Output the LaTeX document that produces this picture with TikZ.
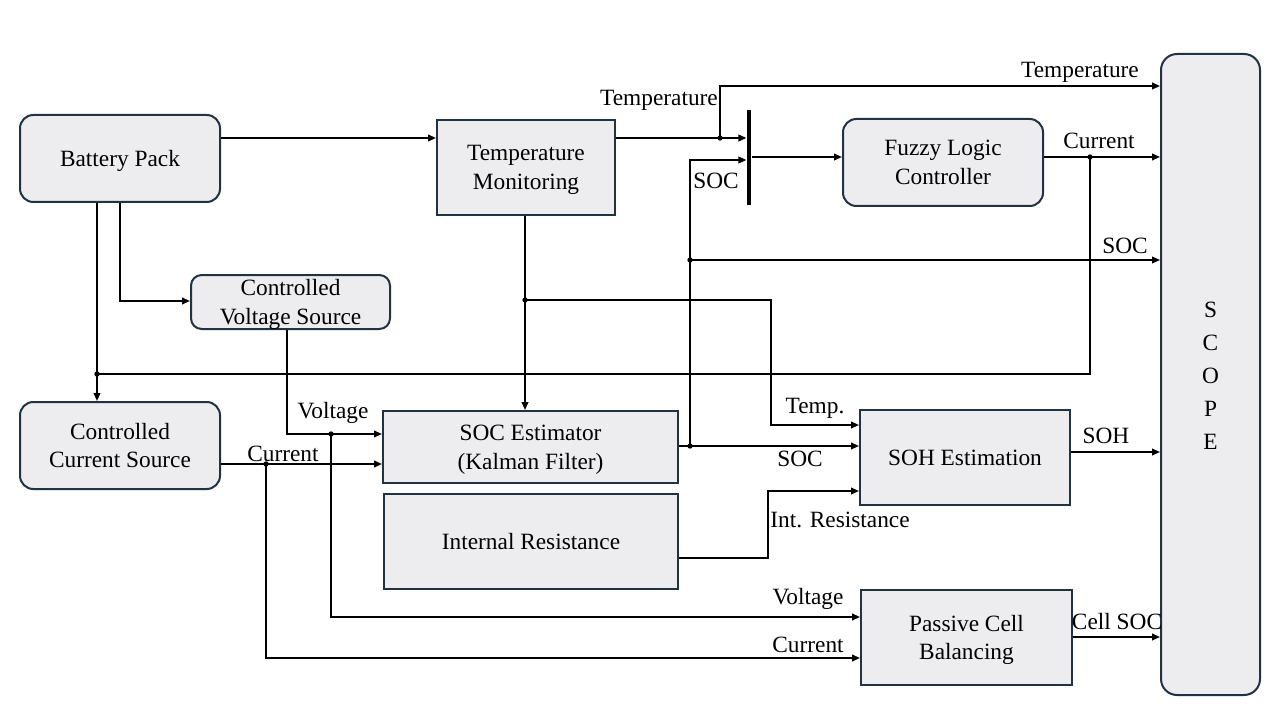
\documentclass[tikz,border=0pt]{standalone}
\usepackage{fontspec}
\setmainfont{Liberation Serif}
\usetikzlibrary{arrows.meta,calc}
\definecolor{boxfill}{HTML}{EDEDEF}
\definecolor{boxline}{HTML}{213244}
\begin{document}
\begin{tikzpicture}[x=0.75pt,y=-0.75pt,
  every node/.style={font=\fontsize{17.5}{21.5}\selectfont},
  sqbox/.style={draw=boxline,fill=boxfill,line width=1.5pt,inner sep=0pt,align=center,text depth=0pt},
  rdbox/.style={sqbox,rounded corners=10pt},
  arr/.style={line width=1.3pt,-{Triangle[length=6pt,width=5pt]}},
  wire/.style={line width=1.3pt},
  jdot/.style={circle,fill=black,inner sep=0pt,minimum size=4pt},
  lbl/.style={inner sep=1pt}]
\fill[white] (0,0) rectangle (1280,720);
\useasboundingbox (0,0) rectangle (1280,720);

% blocks
\node[rdbox,minimum width=150pt,minimum height=65.25pt] (bp) at (120,158.5) {Battery Pack};
\node[sqbox,minimum width=133.5pt,minimum height=71.25pt] (tm) at (526,167.5) {Temperature\\Monitoring};
\node[rdbox,minimum width=149.25pt,minimum height=40.5pt,rounded corners=8pt] (cvs) at (290.5,302) {Controlled\\Voltage Source};
\node[rdbox,minimum width=150pt,minimum height=65.25pt] (ccs) at (120,445.5) {Controlled\\Current Source};
\node[sqbox,minimum width=221.25pt,minimum height=54pt] (soc) at (530.5,447) {SOC Estimator\\(Kalman Filter)};
\node[sqbox,minimum width=220.5pt,minimum height=71.25pt] (ir) at (531,541.5) {Internal Resistance};
\node[rdbox,minimum width=150pt,minimum height=65.25pt] (fz) at (943,162.5) {Fuzzy Logic\\Controller};
\node[sqbox,minimum width=157.5pt,minimum height=71.25pt] (soh) at (965,457.5) {SOH Estimation};
\node[sqbox,minimum width=158.25pt,minimum height=71.25pt] (pcb) at (966.5,637.5) {Passive Cell\\Balancing};
\node[rdbox,minimum width=74.25pt,minimum height=480.75pt,rounded corners=12pt] (scope) at (1210.5,374.5) {};
\node[font=\fontsize{17.5}{24.75}\selectfont,align=center] (scopetxt) at (1210.5,376) {S\\C\\O\\P\\E};
\node[fill=black,inner sep=0pt,minimum width=3.5pt,minimum height=71.25pt] (mux) at (749,157.5) {};

% junction coordinates
\coordinate (j1) at (720,138);
\coordinate (j2) at (690,260);
\coordinate (j3) at (690,446);
\coordinate (j4) at (1090,157);
\coordinate (j5) at (97,374);
\coordinate (j6) at (525,300);
\coordinate (j7) at (331,434);
\coordinate (j8) at (266,464);
\coordinate (c86) at (720,86);
\coordinate (c160) at (690,160);
\coordinate (c374) at (1090,374);
\coordinate (c301) at (120,301);
\coordinate (t1) at (771,300);
\coordinate (t2) at (771,425);
\coordinate (v1) at (287,434);
\coordinate (v2) at (331,617);
\coordinate (i2) at (266,658);
\coordinate (r1) at (768,558);
\coordinate (r2) at (768,491);
\coordinate (ysoh) at (1100,452);
\coordinate (ypcb) at (1100,637);

% connectors
\draw[arr] (bp.east |- j1) -- (tm.west |- j1);
\draw[arr] (tm.east |- j1) -- (mux.west |- j1);
\draw[arr] (j1) -- (c86) -- (scope.west |- c86);
\draw[arr] (j3) -- (c160) -- (mux.west |- c160);
\draw[arr] (j2) -- (scope.west |- j2);
\draw[arr] (mux.east |- j4) -- (fz.west |- j4);
\draw[arr] (fz.east |- j4) -- (scope.west |- j4);
\draw[wire] (j4) -- (c374) -- (j5);
\draw[arr] (bp.south -| j5) -- (ccs.north -| j5);
\draw[arr] (bp.south -| c301) -- (c301) -- (cvs.west |- c301);
\draw[arr] (tm.south -| j6) -- (soc.north -| j6);
\draw[arr] (j6) -- (t1) -- (t2) -- (soh.west |- t2);
\draw[arr] (soc.east |- j3) -- (soh.west |- j3);
\draw[arr] (cvs.south -| v1) -- (v1) -- (soc.west |- v1);
\draw[arr] (j7) -- (v2) -- (pcb.west |- v2);
\draw[arr] (ccs.east |- j8) -- (soc.west |- j8);
\draw[arr] (j8) -- (i2) -- (pcb.west |- i2);
\draw[arr] (ir.east |- r1) -- (r1) -- (r2) -- (soh.west |- r2);
\draw[arr] (soh.east |- ysoh) -- (scope.west |- ysoh);
\draw[arr] (pcb.east |- ypcb) -- (scope.west |- ypcb);

% junction dots
\foreach \j in {j1,j2,j3,j4,j5,j6,j7,j8} \node[jdot] at (\j) {};

% labels
\node[lbl] (l1) at (659,100) {Temperature};
\node[lbl] (l2) at (1080,72) {Temperature};
\node[lbl] (l3) at (716,181) {SOC};
\node[lbl] (l4) at (1099,141) {Current};
\node[lbl] (l5) at (1125,246) {SOC};
\node[lbl] (l6) at (815,408) {Temp.};
\node[lbl] (l7) at (800,459) {SOC};
\node[lbl] (l8) at (840,520) {Int. Resistance};
\node[lbl] (l9) at (1106,436) {SOH};
\node[lbl] (l10) at (1117,622) {Cell SOC};
\node[lbl] (l11) at (333,413) {Voltage};
\node[lbl] (l12) at (283,454) {Current};
\node[lbl] (l13) at (808,599) {Voltage};
\node[lbl] (l14) at (808,645) {Current};
\end{tikzpicture}
\end{document}
